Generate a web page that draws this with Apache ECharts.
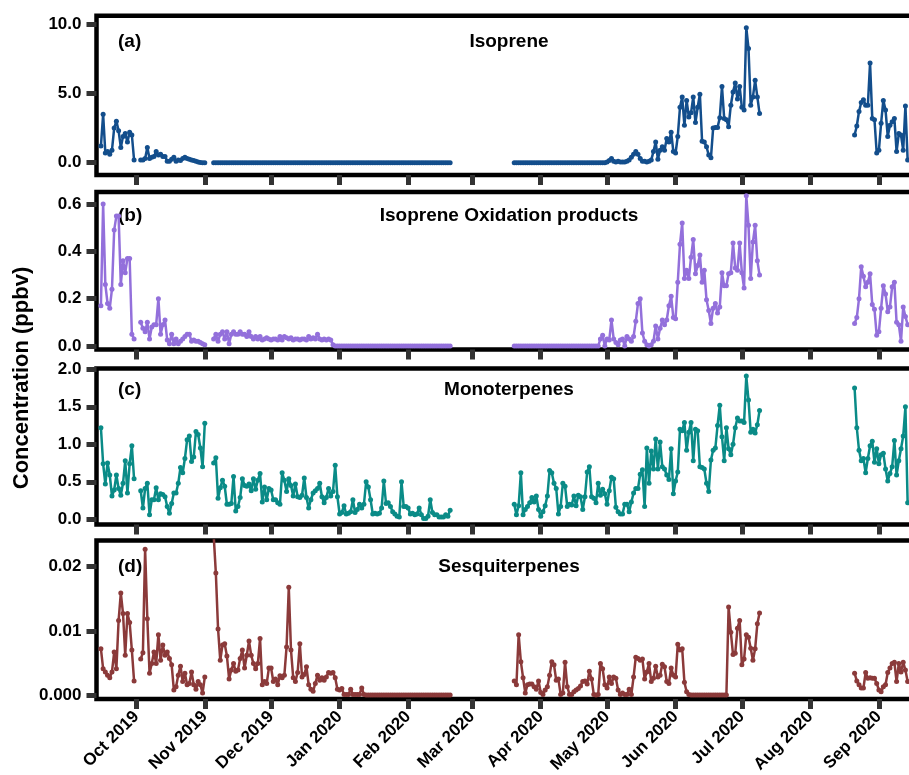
<!DOCTYPE html>
<html>
<head>
<meta charset="utf-8">
<title>BVOC concentrations</title>
<script src="https://cdn.jsdelivr.net/npm/echarts@6/dist/echarts.min.js"></script>
<style>
  html, body { margin: 0; padding: 0; background: #fff; }
  #chart { width: 909px; height: 775px; }
</style>
</head>
<body>
<div id="chart"></div>
<script>
// first day of each data block (daily values follow on from it)
const segmentStarts = ['2019-09-15', '2019-10-03', '2019-11-05', '2020-03-20', '2020-08-21'];

// month ticks on the x axis
const monthTicks = ['2019-10-01', '2019-11-01', '2019-12-01', '2020-01-01', '2020-02-01', '2020-03-01',
  '2020-04-01', '2020-05-01', '2020-06-01', '2020-07-01', '2020-08-01', '2020-09-01'];
const monthNames = ['Jan', 'Feb', 'Mar', 'Apr', 'May', 'Jun', 'Jul', 'Aug', 'Sep', 'Oct', 'Nov', 'Dec'];

// (a) Isoprene, ppbv
const isoprene1 = [1.2, 3.5, 0.7, 0.8, 0.6, 0.9, 2.5, 3.0, 2.3, 1.1, 1.9, 2.1, 1.5, 2.2, 2.0, 0.2];
const isoprene2 = [0.2, 0.2, 0.3, 1.1, 0.3, 0.4, 0.45, 0.8, 0.55, 0.6, 0.45, 0.45, 0.1, 0.1, 0.25,
  0.4, 0.1, 0.2, 0.15, 0.3, 0.4, 0.3, 0.25, 0.2, 0.15, 0.1, 0.05, 0.02, 0, 0];
const isoprene3 = [
  0, 0, 0, 0, 0, 0, 0, 0, 0, 0, 0, 0, 0, 0, 0, 0, 0, 0, 0, 0, 0, 0, 0, 0, 0, 0, 0,
  0, 0, 0, 0, 0, 0, 0, 0, 0, 0, 0, 0, 0, 0, 0, 0, 0, 0, 0, 0, 0, 0, 0, 0, 0, 0, 0,
  0, 0, 0, 0, 0, 0, 0, 0, 0, 0, 0, 0, 0, 0, 0, 0, 0, 0, 0, 0, 0, 0, 0, 0, 0, 0, 0,
  0, 0, 0, 0, 0, 0, 0, 0, 0, 0, 0, 0, 0, 0, 0, 0, 0, 0, 0, 0, 0, 0, 0, 0, 0, 0, 0];
const isoprene4 = [
  0, 0, 0, 0, 0, 0, 0, 0, 0, 0, 0, 0, 0, 0, 0, 0, 0, 0, 0, 0, 0,
  0, 0, 0, 0, 0, 0, 0, 0, 0, 0, 0, 0, 0, 0, 0, 0, 0, 0, 0, 0, 0,
  0.05, 0.15, 0.3, 0.1, 0.05, 0.1, 0.05, 0.05, 0.05, 0.1,
  0.2, 0.4, 0.6, 0.8, 0.6, 0.3, 0.1, 0.1, 0.05, 0.1,
  0.2, 0.8, 1.5, 0.25, 0.9, 1.15, 0.9, 1.75, 1.5, 2.2,
  0.8, 0.7, 1.9, 4.0, 4.75, 2.7, 4.5, 3.3, 3.6, 4.75,
  2.9, 4.0, 4.95, 1.55, 1.5, 1.15, 0.55, 0.35, 2.5, 2.55,
  2.55, 3.25, 5.5, 3.2, 3.1, 2.6, 4.15, 5.1, 5.75, 4.6,
  5.5, 4.0, 3.8, 9.75, 8.25, 4.15, 4.75, 5.95, 4.75, 3.55];
const isoprene5 = [2.0, 2.65, 3.7, 4.35, 4.55, 4.15, 4.15, 7.2, 3.2, 3.1, 0.7, 0.9, 2.85, 4.5, 3.8,
  1.9, 2.7, 2.95, 3.2, 0.8, 2.1, 2.0, 0.9, 4.1, 0.2];

// (b) Isoprene oxidation products, ppbv
const oxidation1 = [0.17, 0.6, 0.26, 0.18, 0.16, 0.24, 0.49, 0.55, 0.55, 0.26, 0.36, 0.31, 0.37, 0.37, 0.05, 0.03];
const oxidation2 = [0.1, 0.075, 0.06, 0.1, 0.03, 0.08, 0.09, 0.09, 0.2, 0.05, 0.09, 0.11, 0.025, 0.01, 0.05,
  0.01, 0.03, 0.01, 0.02, 0.03, 0.04, 0.05, 0.05, 0.02, 0.025, 0.02, 0.02, 0.015, 0.01, 0.005];
const oxidation3 = [
  0.03, 0.05, 0.02, 0.05, 0.06, 0.03, 0.06, 0.01, 0.05, 0.06, 0.05, 0.05, 0.06, 0.05, 0.05,
  0.04, 0.06, 0.04, 0.03, 0.04, 0.03, 0.04, 0.025, 0.03, 0.035, 0.03, 0.025, 0.03, 0.03, 0.025,
  0.04, 0.025, 0.04, 0.035, 0.03, 0.035, 0.025, 0.03, 0.03, 0.025, 0.03, 0.03, 0.025, 0.04, 0.03,
  0.035, 0.03, 0.05, 0.03, 0.025, 0.03, 0.025, 0.03, 0.025, 0.005,
  0, 0, 0, 0, 0, 0, 0, 0, 0, 0, 0, 0, 0, 0, 0, 0, 0, 0, 0, 0, 0, 0, 0, 0, 0, 0, 0,
  0, 0, 0, 0, 0, 0, 0, 0, 0, 0, 0, 0, 0, 0, 0, 0, 0, 0, 0, 0, 0, 0, 0, 0, 0, 0];
const oxidation4 = [
  0, 0, 0, 0, 0, 0, 0, 0, 0, 0, 0, 0, 0, 0, 0, 0, 0, 0, 0, 0,
  0, 0, 0, 0, 0, 0, 0, 0, 0, 0, 0, 0, 0, 0, 0, 0, 0, 0, 0,
  0.03, 0.045, 0, 0.03, 0.025, 0.11, 0.03, 0.015, 0.005, 0.025,
  0.03, 0, 0.04, 0.03, 0.02, 0.04, 0.105, 0.18, 0.2, 0.055,
  0.02, 0.005, 0, 0.005, 0.02, 0.085, 0.03, 0.075, 0.11, 0.09,
  0.11, 0.17, 0.21, 0.12, 0.115, 0.27, 0.43, 0.52, 0.285, 0.32,
  0.285, 0.375, 0.45, 0.305, 0.34, 0.385, 0.27, 0.32, 0.195, 0.15,
  0.095, 0.16, 0.18, 0.14, 0.165, 0.31, 0.255, 0.255, 0.305, 0.31,
  0.435, 0.33, 0.32, 0.435, 0.31, 0.245, 0.635, 0.51, 0.285, 0.44,
  0.51, 0.36, 0.3];
const oxidation5 = [0.095, 0.12, 0.2, 0.335, 0.295, 0.25, 0.27, 0.305, 0.175, 0.155, 0.045, 0.06, 0.16,
  0.255, 0.22, 0.145, 0.165, 0.25, 0.27, 0.1, 0.09, 0.02, 0.165, 0.125, 0.09];

// (c) Monoterpenes, ppbv
const mono1 = [1.22, 0.74, 0.47, 0.75, 0.59, 0.31, 0.39, 0.59, 0.41, 0.32, 0.48, 0.78, 0.35, 0.74, 0.98, 0.54];
const mono2 = [0.38, 0.15, 0.41, 0.48, 0.06, 0.26, 0.26, 0.42, 0.26, 0.34, 0.33, 0.3, 0.17, 0.08, 0.21,
  0.35, 0.35, 0.48, 0.69, 0.62, 0.81, 1.06, 1.11, 0.77, 0.83, 1.17, 1.13, 0.95, 0.7, 1.28];
const mono3 = [
  0.75, 0.82, 0.28, 0.42, 0.52, 0.44, 0.2, 0.2, 0.21, 0.57, 0.11, 0.17, 0.29, 0.54, 0.45,
  0.44, 0.47, 0.38, 0.54, 0.4, 0.52, 0.61, 0.23, 0.43, 0.26, 0.41, 0.39, 0.26, 0.26, 0.22,
  0.2, 0.62, 0.52, 0.37, 0.54, 0.45, 0.31, 0.47, 0.3, 0.29, 0.32, 0.55, 0.29, 0.15, 0.26,
  0.35, 0.38, 0.41, 0.48, 0.3, 0.22, 0.29, 0.41, 0.31, 0.37, 0.72, 0.3, 0.07, 0.09, 0.18,
  0.07, 0.08, 0.1, 0.26, 0.09, 0.13, 0.2, 0.15, 0.2, 0.5, 0.43, 0.26, 0.07, 0.08, 0.07,
  0.08, 0.15, 0.51, 0.21, 0.22, 0.17, 0.1, 0.07, 0.04, 0.03, 0.5, 0.17, 0.17, 0.15, 0.07,
  0.08, 0.06, 0.07, 0.15, 0.06, 0.01, 0.01, 0.04, 0.26, 0.09, 0.06, 0.06, 0.03, 0.03, 0.03,
  0.06, 0.04, 0.12];
const mono4 = [
  0.2, 0.06, 0.18, 0.62, 0.06, 0.13, 0.17, 0.22, 0.29, 0.23,
  0.31, 0.13, 0.04, 0.1, 0.18, 0.31, 0.65, 0.62, 0.48, 0.41,
  0.07, 0.17, 0.48, 0.44, 0.17, 0.2, 0.19, 0.31, 0.18, 0.32,
  0.3, 0.13, 0.3, 0.63, 0.7, 0.3, 0.28, 0.22, 0.48, 0.32,
  0.4, 0.34, 0.2, 0.38, 0.56, 0.54, 0.16, 0.1, 0.07, 0.07,
  0.2, 0.2, 0.1, 0.23, 0.35, 0.41, 0.41, 0.6, 0.66, 0.17,
  0.95, 0.48, 0.91, 0.67, 1.07, 0.67, 1.03, 0.7, 0.67, 0.59,
  0.53, 0.94, 0.34, 0.51, 0.63, 1.2, 1.18, 1.29, 0.92, 1.16,
  1.29, 0.78, 1.2, 1.18, 0.7, 0.69, 0.67, 0.48, 0.37, 0.79,
  0.92, 0.95, 1.25, 1.52, 1.1, 0.78, 1.22, 0.94, 0.86, 1.0,
  1.22, 1.35, 1.31, 1.31, 1.29, 1.91, 1.59, 1.16, 1.2, 1.15, 1.26, 1.45];
const mono5 = [1.75, 1.22, 0.92, 0.78, 0.81, 0.62, 0.81, 0.98, 1.04, 0.76, 0.94, 0.74, 0.86, 0.88, 0.67,
  0.51, 0.61, 0.7, 1.05, 0.59, 0.78, 0.94, 1.11, 1.5, 0.22];

// (d) Sesquiterpenes, ppbv
const sesq1 = [0.0072, 0.0041, 0.0036, 0.0031, 0.0027, 0.0036, 0.0067, 0.0041, 0.0116, 0.0159, 0.0127,
  0.0062, 0.0127, 0.0113, 0.007, 0.0022];
const sesq2 = [0.0056, 0.0066, 0.0227, 0.0119, 0.0034, 0.0049, 0.0067, 0.0049, 0.0094, 0.0054, 0.0078,
  0.0062, 0.0067, 0.0057, 0.0047, 0.0008, 0.0013, 0.0031, 0.0045, 0.0021, 0.0034, 0.0016, 0.0018,
  0.0036, 0.0016, 0.0009, 0.0021, 0.0016, 0.0003, 0.0028];
const sesq3 = [
  0.025, 0.019, 0.0103, 0.0054, 0.0078, 0.008, 0.0061, 0.0025, 0.0039, 0.0049,
  0.0037, 0.0039, 0.0057, 0.007, 0.0042, 0.0062, 0.0084, 0.0062, 0.0049, 0.0041,
  0.0049, 0.0088, 0.0016, 0.0021, 0.0018, 0.0042, 0.0042, 0.0021, 0.0025, 0.0016,
  0.003, 0.0027, 0.0031, 0.0075, 0.0168, 0.007, 0.0027, 0.0021, 0.0035, 0.008,
  0.0028, 0.0032, 0.0044, 0.0016, 0.0009, 0.0006, 0.0018, 0.0031, 0.0023, 0.0027,
  0.0023, 0.0028, 0.0035, 0.0034, 0.0035, 0.0027, 0.0009, 0.0008, 0.001, 0.0001,
  0.0001, 0.0001, 0.0009, 0.0001, 0.0001, 0.0001, 0.0001, 0.0011, 0.0001,
  0, 0, 0, 0, 0, 0, 0, 0, 0, 0, 0, 0, 0, 0, 0, 0, 0, 0, 0, 0,
  0, 0, 0, 0, 0, 0, 0, 0, 0, 0, 0, 0, 0, 0, 0, 0, 0, 0, 0];
const sesq4 = [
  0.0022, 0.0016, 0.0094, 0.0052, 0.0027, 0.0003, 0.0016, 0.0017, 0.0017, 0.0013,
  0.0009, 0.0022, 0.0004, 0.0001, 0.0008, 0.0013, 0.0031, 0.0052, 0.0047, 0.0023,
  0.0025, 0.0001, 0.0003, 0.0051, 0.0013, 0.0001, 0.0001, 0.0005, 0.0008, 0.001,
  0.0014, 0.0021, 0.0022, 0.0017, 0.0037, 0.0025, 0.0001, 0, 0.0001, 0.0049,
  0.0041, 0.0016, 0.0011, 0.0028, 0.0018, 0.0028, 0.0026, 0.0008, 0.0001, 0.0003,
  0.0001, 0.0001, 0.0009, 0.0001, 0.0028, 0.0059, 0.0057, 0.0054, 0.0056, 0.0025,
  0.0036, 0.0049, 0.0021, 0.0026, 0.0045, 0.0028, 0.0031, 0.0048, 0.0044, 0.0021,
  0.0018, 0.0042, 0.0031, 0.0028, 0.0079, 0.007, 0.0072, 0.002, 0.0005, 0.0001,
  0, 0, 0, 0, 0, 0, 0, 0, 0, 0, 0, 0, 0, 0, 0, 0, 0,
  0.0137, 0.0098, 0.0063, 0.0065, 0.0104, 0.0116, 0.0047, 0.0056, 0.0094, 0.009,
  0.0073, 0.0054, 0.0072, 0.0111, 0.0128];
const sesq5 = [0.0034, 0.0022, 0.0016, 0.0011, 0.0011, 0.0035, 0.0026, 0.0027, 0.0026, 0.0026, 0.0018,
  0.0008, 0.0005, 0.0013, 0.0016, 0.0035, 0.0042, 0.0049, 0.0051, 0.0021, 0.0049, 0.0036, 0.0051,
  0.0039, 0.0021];

// y ticks of each panel
const ticksA = [0, 5, 10];
const ticksB = [0, 0.2, 0.4, 0.6];
const ticksC = [0, 0.5, 1, 1.5, 2];
const ticksD = [0, 0.01, 0.02];

const titles = ['Isoprene', 'Isoprene Oxidation products', 'Monoterpenes', 'Sesquiterpenes'];
const tags = ['(a)', '(b)', '(c)', '(d)'];

function toTime(str, offset) {
  const p = str.split('-').map(Number);
  return new Date(p[0], p[1] - 1, p[2] + (offset || 0)).getTime();
}

function buildData(blocks) {
  const out = [];
  blocks.forEach((vals, k) => {
    vals.forEach((v, i) => out.push([toTime(segmentStarts[k], i), v]));
    out.push([toTime(segmentStarts[k], vals.length), null]);
  });
  return out;
}

const FONT = '"Liberation Sans", Arial, sans-serif';
const tickTimes = monthTicks.map(s => toTime(s));
const xMin = toTime('2019-09-13');
const xMax = toTime('2020-09-30');

const panels = [
  { data: buildData([isoprene1, isoprene2, isoprene3, isoprene4, isoprene5]), color: '#134E8C',
    ticks: ticksA, min: -0.89, max: 10.61, fmt: v => v.toFixed(1) },
  { data: buildData([oxidation1, oxidation2, oxidation3, oxidation4, oxidation5]), color: '#9370DB',
    ticks: ticksB, min: -0.0148, max: 0.651, fmt: v => v.toFixed(1) },
  { data: buildData([mono1, mono2, mono3, mono4, mono5]), color: '#0A8B87',
    ticks: ticksC, min: -0.07, max: 2.01, fmt: v => v.toFixed(1) },
  { data: buildData([sesq1, sesq2, sesq3, sesq4, sesq5]), color: '#8B3A3A',
    ticks: ticksD, min: -0.00062, max: 0.02408, fmt: v => (v === 0 ? '0.000' : v.toFixed(2)) }
];

const gridTops = [15.8, 192, 368.5, 540.5];
const gridHeights = [159.2, 157.5, 156, 158.5];
const titleY = [42, 216, 390, 567];

const option = {
  backgroundColor: '#fff',
  animation: false,
  grid: [], xAxis: [], yAxis: [], series: [], graphic: []
};

panels.forEach((p, i) => {
  option.grid.push({
    left: 96.5, right: -34, top: gridTops[i], height: gridHeights[i],
    show: true, borderColor: '#000', borderWidth: 4.5, backgroundColor: 'transparent',
    containLabel: false, outerBoundsMode: 'none'
  });
  // dates as millisecond numbers on a value axis, ticks at the first of each month
  option.xAxis.push({
    type: 'value', gridIndex: i, min: xMin, max: xMax, scale: true,
    axisLine: { show: false, onZero: false },
    splitLine: { show: false },
    axisTick: { show: true, inside: false, customValues: tickTimes, length: 10, lineStyle: { color: '#333', width: 5 } },
    axisLabel: {
      show: i === 3, customValues: tickTimes, rotate: 45, margin: 15,
      fontSize: 17, fontWeight: 'bold', color: '#000', fontFamily: FONT,
      formatter: function (val) {
        const d = new Date(val);
        return monthNames[d.getMonth()] + ' ' + d.getFullYear();
      }
    }
  });
  option.yAxis.push({
    type: 'value', gridIndex: i, min: p.min, max: p.max,
    axisLine: { show: false, onZero: false },
    splitLine: { show: false },
    axisTick: { show: true, inside: false, customValues: p.ticks, length: 10, lineStyle: { color: '#333', width: 5 } },
    axisLabel: {
      customValues: p.ticks, margin: 15, formatter: p.fmt,
      fontSize: 17, fontWeight: 'bold', color: '#000', fontFamily: FONT
    }
  });
  option.series.push({
    type: 'line', xAxisIndex: i, yAxisIndex: i, data: p.data,
    symbol: 'circle', symbolSize: 5, connectNulls: false, clip: true,
    lineStyle: { color: p.color, width: 2.5 },
    itemStyle: { color: p.color }
  });
  option.graphic.push({
    type: 'text', x: 118, y: titleY[i],
    style: { text: tags[i], font: 'bold 19px ' + FONT, fill: '#000',
      textVerticalAlign: 'middle', verticalAlign: 'middle' }
  });
  option.graphic.push({
    type: 'text', x: 509, y: titleY[i],
    style: { text: titles[i], font: 'bold 19px ' + FONT, fill: '#000',
      textAlign: 'center', align: 'center', textVerticalAlign: 'middle', verticalAlign: 'middle' }
  });
});

option.graphic.push({
  type: 'text', x: 22, y: 378, rotation: Math.PI / 2,
  style: { text: 'Concentration (ppbv)', font: 'bold 22px ' + FONT, fill: '#000',
    textAlign: 'center', align: 'center', textVerticalAlign: 'middle', verticalAlign: 'middle' }
});

const myChart = echarts.init(document.getElementById('chart'));
myChart.setOption(option);
</script>
</body>
</html>
